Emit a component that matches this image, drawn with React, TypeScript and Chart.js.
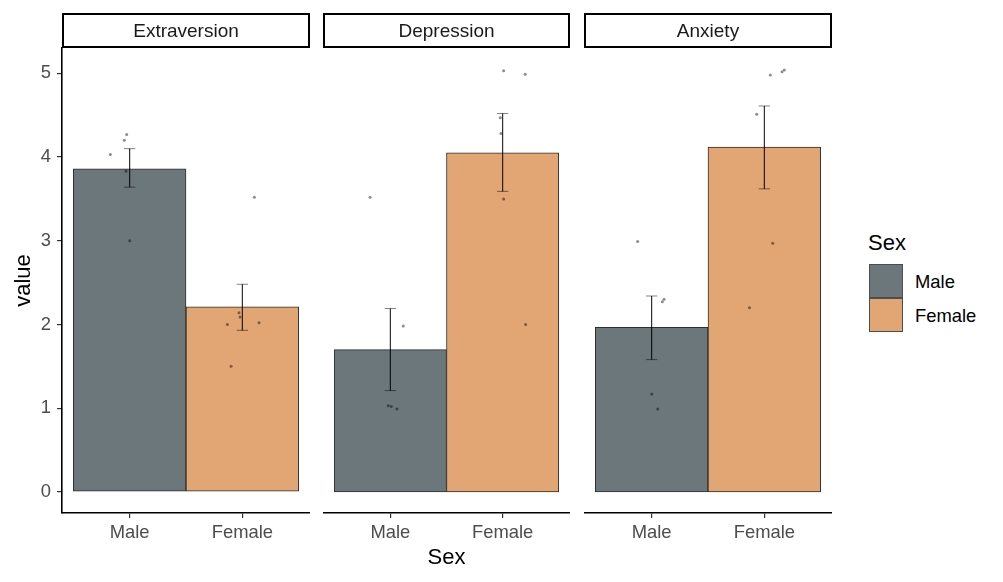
import React, { useEffect, useRef } from "react";
import { Chart, registerables } from "chart.js";

Chart.register(...registerables);

const FONT = "'Liberation Sans', Arial, Helvetica, sans-serif";

// ---------------- data ----------------
const facets = ["Extraversion", "Depression", "Anxiety"];
const sexes = ["Male", "Female"];
const sexColors = ["#6b777b", "#e2a574"];
const yTickValues = [0, 1, 2, 3, 4, 5];
const sexPositions = [1, 2];

// bar heights (means) per facet: [Male, Female]
const meanExtraversion = [3.86, 2.21];
const meanDepression = [1.7, 4.05];
const meanAnxiety = [1.965, 4.12];

// error bar limits per facet: [Male, Female]
const lowExtraversion = [3.64, 1.93];
const highExtraversion = [4.1, 2.48];
const lowDepression = [1.21, 3.59];
const highDepression = [2.19, 4.52];
const lowAnxiety = [1.58, 3.62];
const highAnxiety = [2.34, 4.61];

// jittered raw observations (x = jittered Sex position, y = value)
const extraversionMaleX = [0.829, 0.974, 0.953, 0.968, 1.001];
const extraversionMaleY = [4.03, 4.27, 4.2, 3.83, 3.0];
const extraversionFemaleX = [2.106, 1.97, 1.979, 1.867, 2.148, 1.9];
const extraversionFemaleY = [3.52, 2.14, 2.09, 2.0, 2.02, 1.5];

const depressionMaleX = [0.819, 1.115, 0.981, 1.008, 1.059];
const depressionMaleY = [3.52, 1.98, 1.03, 1.02, 0.99];
const depressionFemaleX = [2.009, 2.201, 1.979, 1.985, 2.009, 2.205];
const depressionFemaleY = [5.03, 4.99, 4.47, 4.28, 3.5, 2.0];

const anxietyMaleX = [0.876, 1.095, 1.11, 1.001, 1.054];
const anxietyMaleY = [2.99, 2.27, 2.3, 1.17, 0.99];
const anxietyFemaleX = [2.053, 2.157, 2.177, 1.932, 2.074, 1.868];
const anxietyFemaleY = [4.98, 5.02, 5.04, 4.51, 2.97, 2.2];

const means = [meanExtraversion, meanDepression, meanAnxiety];
const lows = [lowExtraversion, lowDepression, lowAnxiety];
const highs = [highExtraversion, highDepression, highAnxiety];
const pointsX = [
  [...extraversionMaleX, ...extraversionFemaleX],
  [...depressionMaleX, ...depressionFemaleX],
  [...anxietyMaleX, ...anxietyFemaleX],
];
const pointsY = [
  [...extraversionMaleY, ...extraversionFemaleY],
  [...depressionMaleY, ...depressionFemaleY],
  [...anxietyMaleY, ...anxietyFemaleY],
];

// ---------------- layout ----------------
const Y_MIN = -0.2525;
const Y_MAX = 5.3025;
const X_MIN = 0.4;
const X_MAX = 2.6;
const CAP_HALF = 0.05;

const panels = [
  { left: 0, width: 310, showY: true, showXTitle: false },
  { left: 323, width: 247, showY: false, showXTitle: true },
  { left: 584, width: 248, showY: false, showXTitle: false },
];
const CANVAS_TOP = 13;
const CANVAS_H = 569;

const stripPlugin = {
  id: "strip",
  afterDraw(chart: any) {
    const { ctx, chartArea } = chart;
    const tb = chart.titleBlock;
    if (!tb) return;
    ctx.save();
    ctx.strokeStyle = "#000";
    ctx.lineWidth = 2;
    ctx.strokeRect(
      chartArea.left + 1,
      tb.top + 1,
      chartArea.right - chartArea.left - 2,
      tb.height - 2
    );
    ctx.restore();
  },
};

function buildConfig(i: number, p: any) {
  const errData: any[] = [];
  sexPositions.forEach((c, k) => {
    const lo = lows[i][k];
    const hi = highs[i][k];
    errData.push(
      { x: c - CAP_HALF, y: hi },
      { x: c + CAP_HALF, y: hi },
      { x: c, y: null },
      { x: c, y: hi },
      { x: c, y: lo },
      { x: c, y: null },
      { x: c - CAP_HALF, y: lo },
      { x: c + CAP_HALF, y: lo },
      { x: c, y: null }
    );
  });
  const pts = pointsX[i].map((x, k) => ({ x, y: pointsY[i][k] }));
  const bars = sexPositions.map((x, k) => ({ x, y: means[i][k] }));

  return {
    type: "bar",
    data: {
      datasets: [
        {
          type: "scatter",
          data: pts,
          pointRadius: 1.5,
          pointHoverRadius: 0,
          pointBackgroundColor: "rgba(0,0,0,0.45)",
          pointBorderWidth: 0,
          order: 0,
        },
        {
          type: "line",
          data: errData,
          borderColor: "rgba(0,0,0,0.55)",
          borderWidth: 0.9,
          pointRadius: 0,
          pointHoverRadius: 0,
          spanGaps: false,
          fill: false,
          order: 1,
        },
        {
          type: "bar",
          data: bars,
          backgroundColor: sexColors,
          borderColor: "#2e2e2e",
          borderWidth: 1,
          borderSkipped: false,
          barPercentage: 1,
          categoryPercentage: 1,
          order: 2,
        },
      ],
    },
    options: {
      responsive: false,
      animation: false,
      events: [],
      layout: { padding: 0, autoPadding: false },
      plugins: {
        legend: { display: false },
        tooltip: { enabled: false },
        title: {
          display: true,
          text: facets[i],
          fullSize: false,
          color: "#1a1a1a",
          font: { family: FONT, size: 19, weight: "normal" },
          padding: { top: 7, bottom: 5.2 },
        },
      },
      scales: {
        x: {
          type: "linear",
          min: X_MIN,
          max: X_MAX,
          offset: false,
          bounds: "data",
          afterBuildTicks: (s: any) => {
            s.ticks = sexPositions.map((v) => ({ value: v }));
          },
          afterFit: (s: any) => {
            s.height = 69;
            s.paddingLeft = 0;
            s.paddingRight = 0;
          },
          ticks: {
            autoSkip: false,
            maxRotation: 0,
            color: "#4d4d4d",
            font: { family: FONT, size: 18.4 },
            padding: 3.5,
            callback: (_v: any, idx: number) => sexes[idx],
          },
          grid: {
            display: true,
            offset: false,
            drawOnChartArea: false,
            drawTicks: true,
            tickLength: 5,
            color: "#333333",
            lineWidth: 1.2,
          },
          border: { display: true, color: "#000", width: 1.6 },
          title: {
            display: p.showXTitle,
            text: "Sex",
            color: "#000",
            font: { family: FONT, size: 22 },
            padding: { top: 0, bottom: 10.5 },
          },
        },
        y: {
          type: "linear",
          display: p.showY,
          min: Y_MIN,
          max: Y_MAX,
          bounds: "data",
          afterBuildTicks: (s: any) => {
            s.ticks = yTickValues.map((v) => ({ value: v }));
          },
          afterFit: (s: any) => {
            s.width = p.showY ? 62 : 0;
            s.paddingTop = 0;
            s.paddingBottom = 0;
          },
          ticks: {
            color: "#4d4d4d",
            font: { family: FONT, size: 18.4 },
            padding: 6,
            callback: (v: any) => String(v),
          },
          grid: {
            display: true,
            drawOnChartArea: false,
            drawTicks: true,
            tickLength: 5,
            color: "#333333",
            lineWidth: 1.2,
          },
          border: { display: true, color: "#000", width: 1.6 },
          title: {
            display: true,
            text: "value",
            color: "#000",
            font: { family: FONT, size: 22 },
            padding: { top: 11, bottom: 0 },
          },
        },
      },
    },
    plugins: [stripPlugin],
  };
}

export default function App() {
  const refs = [useRef<HTMLCanvasElement>(null), useRef<HTMLCanvasElement>(null), useRef<HTMLCanvasElement>(null)];

  useEffect(() => {
    const charts = panels.map((p, i) => {
      const cv = refs[i].current as HTMLCanvasElement;
      return new Chart(cv, buildConfig(i, p) as any);
    });
    return () => charts.forEach((c) => c.destroy());
  }, []);

  return (
    <div
      style={{
        position: "fixed",
        left: 0,
        top: 0,
        width: 1003,
        height: 582,
        background: "#fff",
        fontFamily: FONT,
      }}
    >
      {panels.map((p, i) => (
        <canvas
          key={i}
          ref={refs[i]}
          width={p.width}
          height={CANVAS_H}
          style={{ position: "absolute", left: p.left, top: CANVAS_TOP, width: p.width, height: CANVAS_H }}
        />
      ))}
      <div style={{ position: "absolute", left: 868, top: 232.4, fontSize: 22, lineHeight: "22px", color: "#000" }}>
        Sex
      </div>
      {sexes.map((s, k) => (
        <React.Fragment key={s}>
          <div
            style={{
              position: "absolute",
              left: 869,
              top: 264 + k * 34,
              width: 34,
              height: 34,
              boxSizing: "border-box",
              background: sexColors[k],
              border: "1px solid #4d4d4d",
            }}
          />
          <div
            style={{
              position: "absolute",
              left: 915,
              top: 273.4 + k * 33.3,
              fontSize: 18.4,
              lineHeight: "18.4px",
              color: "#000",
            }}
          >
            {s}
          </div>
        </React.Fragment>
      ))}
    </div>
  );
}
